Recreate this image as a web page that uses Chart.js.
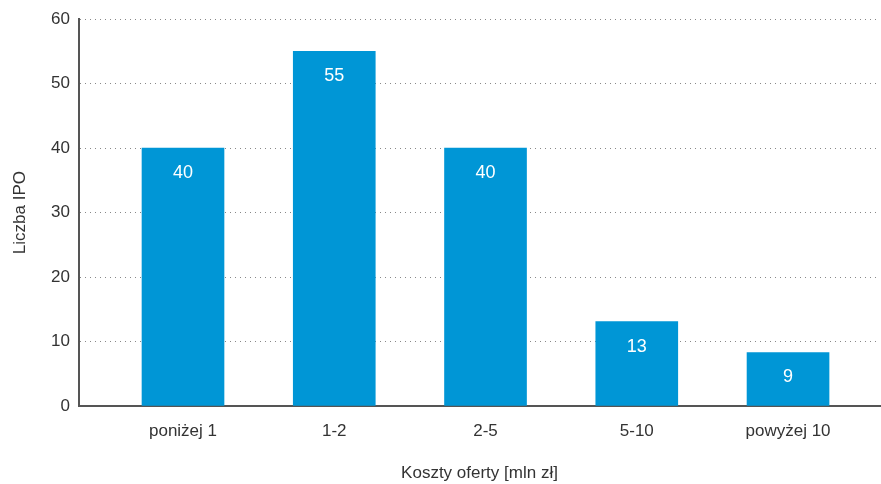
<!DOCTYPE html>
<html>
<head>
<meta charset="utf-8">
<script src="https://cdn.jsdelivr.net/npm/chart.js@4/dist/chart.umd.min.js"></script>
<style>
  html, body { margin: 0; padding: 0; background: #fff; }
  #wrap { width: 881px; height: 484px; }
</style>
</head>
<body>
<div id="wrap"><canvas id="barChart"></canvas></div>
<script>
const categories = ['poniżej 1', '1-2', '2-5', '5-10', 'powyżej 10'];
const ipoCounts = [40, 55, 40, 13.1, 8.3];
const valueLabels = ['40', '55', '40', '13', '9'];
const yTicks = [0, 10, 20, 30, 40, 50, 60];

const FONT = "'Liberation Sans', Arial, Helvetica, sans-serif";
const BAR_COLOR = '#0096d6';

// napisy wartości wewnątrz słupków
const innerLabels = {
  id: 'innerLabels',
  afterDatasetsDraw(chart) {
    const ctx = chart.ctx;
    const meta = chart.getDatasetMeta(0);
    ctx.save();
    ctx.fillStyle = '#ffffff';
    ctx.font = '18px ' + FONT;
    ctx.textAlign = 'center';
    ctx.textBaseline = 'middle';
    meta.data.forEach((bar, i) => {
      ctx.fillText(valueLabels[i], bar.x, bar.y + 25);
    });
    ctx.restore();
  }
};

const ctx = document.getElementById('barChart').getContext('2d');
const chart = new Chart(ctx, {
  type: 'bar',
  data: {
    datasets: [{
      label: 'Liczba IPO',
      data: ipoCounts.map((v, i) => ({ x: i, y: v })),
      backgroundColor: BAR_COLOR,
      barThickness: 82,
      borderWidth: 0
    }]
  },
  options: {
    responsive: true,
    maintainAspectRatio: false,
    animation: false,
    layout: { padding: { top: 14, right: 1, left: 0, bottom: 0 } },
    plugins: {
      legend: { display: false },
      tooltip: { enabled: false }
    },
    scales: {
      x: {
        type: 'linear',
        offset: false,
        min: -0.6876,
        max: 4.608,
        afterBuildTicks: axis => { axis.ticks = categories.map((c, i) => ({ value: i })); },
        afterFit: axis => { axis.height = 78; },
        grid: { display: false, drawTicks: false },
        border: { display: true, color: '#555555', width: 2 },
        ticks: {
          padding: 15,
          color: '#333333',
          font: { family: FONT, size: 17 },
          callback: value => categories[value]
        },
        title: {
          display: true,
          text: 'Koszty oferty [mln zł]',
          color: '#333333',
          font: { family: FONT, size: 17 },
          padding: { top: 0, bottom: 0 }
        }
      },
      y: {
        min: 0,
        max: 60,
        afterBuildTicks: axis => { axis.ticks = yTicks.map(v => ({ value: v })); },
        afterFit: axis => { axis.width = 79; },
        grid: {
          drawTicks: false,
          color: '#888888',
          lineWidth: 1
        },
        border: { display: true, color: '#555555', width: 2, dash: [1, 4] },
        ticks: {
          padding: 9,
          color: '#333333',
          font: { family: FONT, size: 17 }
        },
        title: {
          display: true,
          text: 'Liczba IPO',
          color: '#333333',
          font: { family: FONT, size: 17 },
          padding: { top: 10, bottom: 0 }
        }
      }
    }
  },
  plugins: [innerLabels]
});
</script>
</body>
</html>
